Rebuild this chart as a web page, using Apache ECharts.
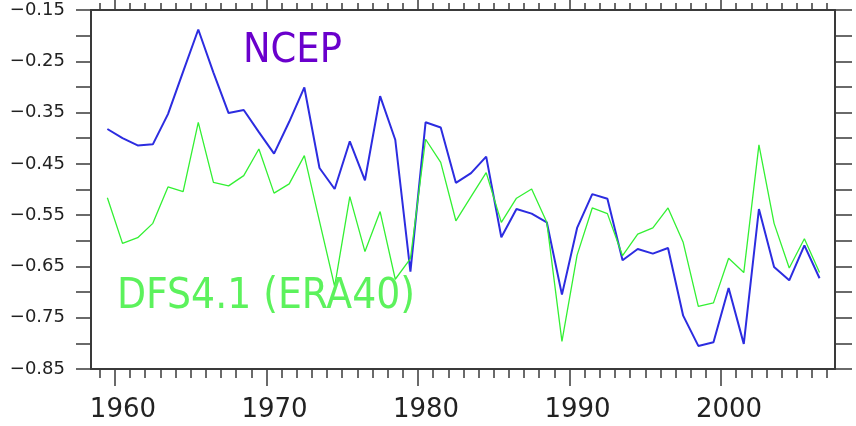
<!DOCTYPE html>
<html>
<head>
<meta charset="utf-8">
<script src="https://cdn.jsdelivr.net/npm/echarts@6/dist/echarts.min.js"></script>
<style>
html,body{margin:0;padding:0;background:#fff;}
#chart{width:856px;height:426px;}
</style>
</head>
<body>
<div id="chart"></div>
<script>
// ---- data ----
const years = [1959,1960,1961,1962,1963,1964,1965,1966,1967,1968,
               1969,1970,1971,1972,1973,1974,1975,1976,1977,1978,
               1979,1980,1981,1982,1983,1984,1985,1986,1987,1988,
               1989,1990,1991,1992,1993,1994,1995,1996,1997,1998,
               1999,2000,2001,2002,2003,2004,2005,2006];
const ncep = [-0.382,-0.400,-0.414,-0.412,-0.353,-0.270,-0.188,-0.272,-0.351,-0.345,
              -0.388,-0.430,-0.368,-0.301,-0.458,-0.499,-0.406,-0.482,-0.318,-0.403,
              -0.660,-0.369,-0.379,-0.487,-0.468,-0.436,-0.593,-0.538,-0.547,-0.564,
              -0.705,-0.575,-0.509,-0.518,-0.638,-0.616,-0.625,-0.614,-0.746,-0.805,
              -0.798,-0.692,-0.801,-0.538,-0.651,-0.677,-0.609,-0.673];
const dfs  = [-0.516,-0.605,-0.594,-0.566,-0.495,-0.504,-0.369,-0.486,-0.493,-0.473,
              -0.421,-0.507,-0.489,-0.434,-0.562,-0.689,-0.514,-0.621,-0.543,-0.675,
              -0.635,-0.402,-0.447,-0.561,-0.514,-0.467,-0.564,-0.517,-0.499,-0.564,
              -0.796,-0.628,-0.536,-0.547,-0.629,-0.587,-0.575,-0.536,-0.603,-0.728,
              -0.721,-0.634,-0.662,-0.413,-0.566,-0.653,-0.596,-0.662];
const decadeTicks = [1960,1970,1980,1990,2000];
const yearTicks = [1959,1960,1961,1962,1963,1964,1965,1966,1967,1968,1969,1970,
                   1971,1972,1973,1974,1975,1976,1977,1978,1979,1980,1981,1982,
                   1983,1984,1985,1986,1987,1988,1989,1990,1991,1992,1993,1994,
                   1995,1996,1997,1998,1999,2000,2001,2002,2003,2004,2005,2006,2007];
const yLabelValues = [-0.85,-0.75,-0.65,-0.55,-0.45,-0.35,-0.25,-0.15];
const seriesNames = ['NCEP','DFS4.1 (ERA40)'];

// ---- chart ----
const XMIN = 1958.42, XMAX = 2007.52;
const AX = '#3a3a3a';
const gridRect = {left:91, right:21, top:10, bottom:57};
const chart = echarts.init(document.getElementById('chart'));
const hiddenLabel = {show:false};
function xAx(grid, pos, ticks, len, line, label) {
  return {
    gridIndex: grid, type:'value', position: pos, min: XMIN, max: XMAX,
    axisLine: {show: line, onZero:false, lineStyle:{color:AX, width:2}},
    axisTick: {show:true, customValues: ticks, length: len, lineStyle:{color:AX, width:1.5}},
    axisLabel: label || hiddenLabel,
    splitLine: {show:false}
  };
}
const option = {
  backgroundColor:'#fff',
  animation:false,
  grid:[Object.assign({}, gridRect), Object.assign({}, gridRect)],
  xAxis:[
    xAx(0,'bottom',decadeTicks,17,true,{
      show:true, customValues: decadeTicks,
      formatter: v => String(Math.round(v)),
      margin: 28, fontSize: 26, fontFamily:'DejaVu Sans', color:'#222',
      padding:[0,0,0,16]
    }),
    xAx(0,'top',decadeTicks,14,true,null),
    xAx(1,'bottom',yearTicks,9,false,null),
    xAx(1,'top',yearTicks,7,false,null)
  ],
  yAxis:[
    {gridIndex:0, type:'value', position:'left', min:-0.85, max:-0.15, interval:0.05,
     axisLine:{show:true, onZero:false, lineStyle:{color:AX, width:2}},
     axisTick:{show:true, length:15, lineStyle:{color:AX, width:1.5}},
     axisLabel:{show:true, customValues: yLabelValues,
       formatter: v => '\u2212' + Math.abs(v).toFixed(2),
       margin: 26, fontSize: 18, fontFamily:'DejaVu Sans', color:'#222'},
     splitLine:{show:false}},
    {gridIndex:0, type:'value', position:'right', min:-0.85, max:-0.15, interval:0.05,
     axisLine:{show:true, onZero:false, lineStyle:{color:AX, width:2}},
     axisTick:{show:true, length:17, lineStyle:{color:AX, width:1.5}},
     axisLabel:{show:false}, splitLine:{show:false}},
    {gridIndex:1, type:'value', show:false, min:-0.85, max:-0.15}
  ],
  series:[
    {name:seriesNames[0], type:'line', xAxisIndex:0, yAxisIndex:0, symbol:'none',
     data: years.map((y,i)=>[y+0.5, ncep[i]]),
     lineStyle:{color:'#2c2ce0', width:2}, z:2},
    {name:seriesNames[1], type:'line', xAxisIndex:0, yAxisIndex:0, symbol:'none',
     data: years.map((y,i)=>[y+0.5, dfs[i]]),
     lineStyle:{color:'#33f033', width:1.3}, z:3}
  ],
  graphic:[
    {type:'text', left:243, top:31, z:10,
     style:{text:seriesNames[0], font:'41px "DejaVu Sans Condensed", "DejaVu Sans"', fill:'#6a00cc'}},
    {type:'text', left:117, top:276, z:10,
     style:{text:seriesNames[1], font:'42px "DejaVu Sans Condensed", "DejaVu Sans"', fill:'#5cf25c'}}
  ]
};
chart.setOption(option);
</script>
</body>
</html>
